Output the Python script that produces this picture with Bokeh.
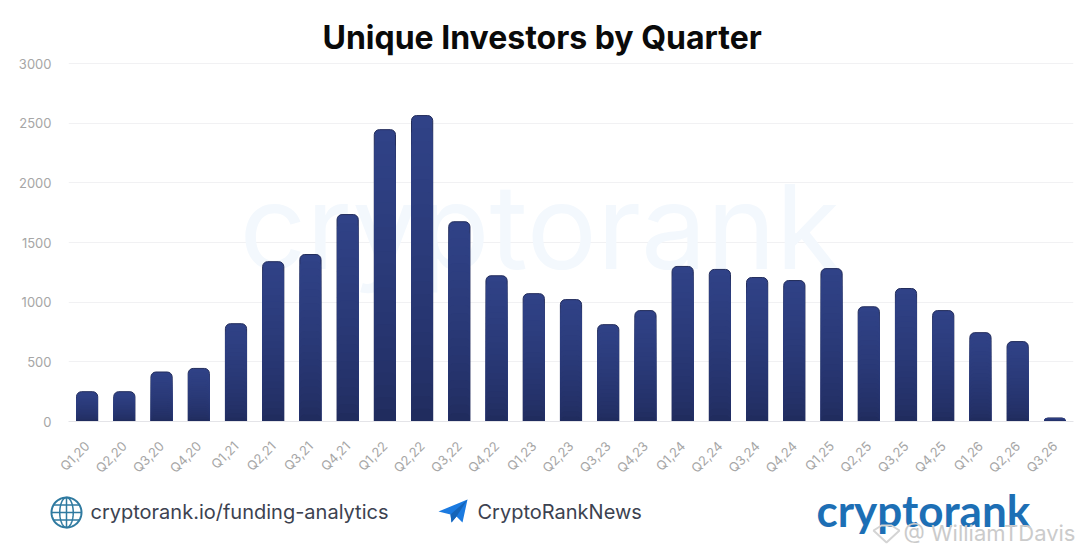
import numpy as np
from bokeh.plotting import figure
from bokeh.layouts import column
from bokeh.core.properties import value
from bokeh.models import FactorRange, Range1d, Label, FixedTicker
from bokeh.embed import file_html
from bokeh.resources import INLINE

quarters = ["Q1,20","Q2,20","Q3,20","Q4,20","Q1,21","Q2,21","Q3,21","Q4,21","Q1,22","Q2,22","Q3,22","Q4,22",
            "Q1,23","Q2,23","Q3,23","Q4,23","Q1,24","Q2,24","Q3,24","Q4,24","Q1,25","Q2,25","Q3,25","Q4,25",
            "Q1,26","Q2,26","Q3,26"]
investors = [250,250,415,445,820,1340,1400,1735,2447,2565,1675,1222,
             1072,1022,812,930,1300,1275,1207,1182,1282,962,1115,930,
             745,670,30]
y_ticks = [0,500,1000,1500,2000,2500,3000]
title_text = "Unique Investors by Quarter"
link_text = "cryptorank.io/funding-analytics"
channel_text = "CryptoRankNews"
brand_text = "cryptorank"
credit_text = "@ WilliamTDavis"

FL, FB = 68, 421
p = figure(width=1076, height=484, x_range=FactorRange(*quarters, factor_padding=0, range_padding=0),
           y_range=Range1d(0, 3010), output_backend="svg", toolbar_location=None,
           frame_width=1005, frame_height=359, frame_align=False,
           min_border_left=68, min_border_right=3, min_border_top=62, min_border_bottom=50,
           background_fill_color="white", border_fill_color="white", outline_line_color=None)

p.title.text = title_text
p.title.text_font = "Inter"
p.title.text_font_style = "bold"
p.title.text_font_size = "32px"
p.title.text_color = "#0a0a0a"
p.title.align = "left"
p.title.offset = 254
p.title.standoff = 11

p.xgrid.visible = False
p.ygrid.grid_line_color = "#f1f1f3"
p.ygrid.grid_line_width = 1
p.yaxis.ticker = FixedTicker(ticks=y_ticks)
for ax in (p.xaxis[0], p.yaxis[0]):
    ax.major_tick_line_color = None
    ax.minor_tick_line_color = None
    ax.major_label_text_font = "Inter"
    ax.major_label_text_color = "#a6a6a6"
p.yaxis.axis_line_color = None
p.yaxis.major_label_text_font_size = "13px"
p.yaxis.major_label_standoff = 11
p.xaxis.axis_line_color = "#e4e4e8"
p.xaxis.major_label_text_font_size = "13px"
p.xaxis.major_label_orientation = np.pi / 4
p.xaxis.major_label_standoff = 16

# pale watermark behind the bars
p.add_layout(Label(x=239 - FL, y=FB - 296, x_units="screen", y_units="screen", text=brand_text,
                   text_font="Inter", text_font_size="117px", text_color="#f3f8fd", level="underlay"))

# bars: gradient made of overlapping rounded bars
bands = 24
top_c = np.array([0x30, 0x42, 0x87])
bot_c = np.array([0x1e, 0x29, 0x58])
vals = np.array(investors, dtype=float)
for i in range(bands):
    f = 1 - i / bands
    c = (bot_c + (top_c - bot_c) * f ** 0.6).astype(int)
    col = "#%02x%02x%02x" % tuple(int(v) for v in c)
    p.vbar(x=quarters, top=vals * f, bottom=0, width=0.57, fill_color=col,
           line_color="#232d5c" if i == 0 else None, line_width=1, border_radius=(5, 5, 0, 0))

# footer strip, drawn in page pixels
foot = figure(width=1076, height=66, x_range=Range1d(0, 1076), y_range=Range1d(550, 484),
              output_backend="svg", toolbar_location=None, x_axis_type=None, y_axis_type=None,
              frame_width=1076, frame_height=66, frame_align=False,
              min_border=0, outline_line_color=None, background_fill_color="white", border_fill_color="white")
foot.grid.visible = False

t = np.linspace(0, 2 * np.pi, 60)
gx, gy, gr = 66, 512, 15
globe = "#2f7aa0"
foot.line(gx + gr * np.cos(t), gy + gr * np.sin(t), line_color=globe, line_width=2)
foot.line(gx + gr * 0.45 * np.cos(t), gy + gr * np.sin(t), line_color=globe, line_width=1.5)
foot.segment(x0=[gx, gx - gr, gx - gr * 0.85, gx - gr * 0.85], y0=[gy - gr, gy, gy - gr * 0.5, gy + gr * 0.5],
             x1=[gx, gx + gr, gx + gr * 0.85, gx + gr * 0.85], y1=[gy + gr, gy, gy - gr * 0.5, gy + gr * 0.5],
             line_color=globe, line_width=1.5)


def text(x, y, s, size, color, style="normal", font="Inter"):
    foot.text(x=[x], y=[y], text=[s], text_font=value(font), text_font_size=value(size), text_color=color,
              text_font_style=style, text_baseline="alphabetic", text_align="left")


text(90, 511, link_text, "20px", "#3c4250")

foot.patch([438, 467, 462, 456, 451, 450], [511, 499, 522, 516, 522, 514], fill_color="#1b7ae0", line_color=None)
foot.patch([450, 467, 456, 451], [514, 499, 516, 522], fill_color="#1564b8", line_color=None)
text(477, 511, channel_text, "20px", "#3c4250")

text(816, 509, brand_text, "44px", "#1d6fb5", "bold", "Lato")

dx, dy = 886, 532
foot.patch([dx - 13, dx - 5, dx + 5, dx + 13, dx], [dy - 2, dy - 7, dy - 7, dy - 2, dy + 10],
           fill_color=None, line_color="#d4d4d4", line_width=2)
text(903, 532, credit_text, "22px", "#cbcbcb")

open("out.html", "w").write(file_html(column(p, foot, spacing=0), INLINE))
